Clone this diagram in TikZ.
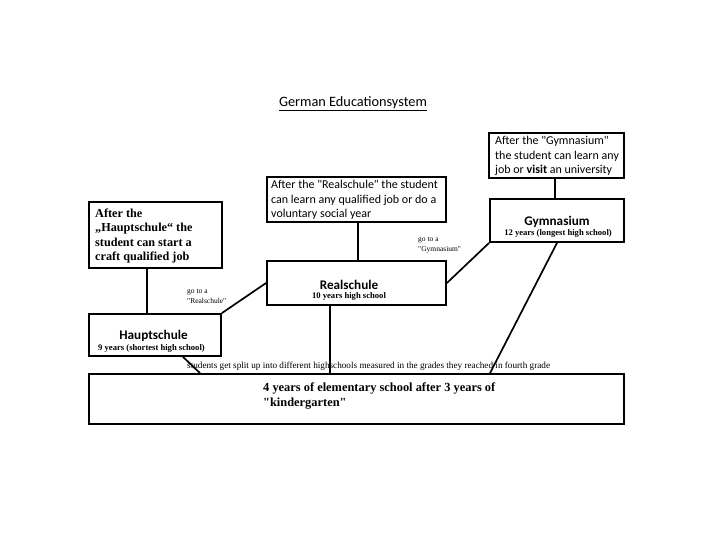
\documentclass[tikz,border=0pt]{standalone}
\usepackage{fontspec}
\setmainfont{Liberation Serif}
\newfontfamily\tnr{Liberation Serif}
\newfontfamily\calib{Carlito}
\begin{document}
\begin{tikzpicture}[x=1pt,y=-1pt,
  box/.style={draw=black,line width=1.8pt,rectangle,inner sep=0pt,fill=white},
  conn/.style={line width=1.7pt},
  sanstext/.style={font=\calib\fontsize{12}{14.5}\selectfont,align=left,inner sep=0pt,anchor=west},
  serifbox/.style={font=\tnr\bfseries\fontsize{12.2}{14.6}\selectfont,align=left,inner sep=0pt,anchor=west},
  small/.style={font=\tnr\fontsize{7.5}{10}\selectfont,align=left,inner sep=0pt,anchor=west},
  head/.style={inner sep=0pt,font=\calib\bfseries\fontsize{13.2}{15}\selectfont},
  sub/.style={inner sep=0pt,font=\tnr\bfseries\fontsize{8.6}{10}\selectfont}]
\useasboundingbox (0,0) rectangle (720,540);
\fill[white] (0,0) rectangle (720,540);
% title
\node[inner sep=0pt,font=\calib\fontsize{14.3}{16}\selectfont] (title) at (353,104) {\underline{German Educationsystem}};
% boxes
\node[box,minimum width=135pt,minimum height=45pt] (gaft) at (556.5,155.5) {};
\node[box,minimum width=179pt,minimum height=45pt] (raft) at (356.5,199.5) {};
\node[box,minimum width=133pt,minimum height=66pt] (haft) at (155.5,235) {};
\node[box,minimum width=134pt,minimum height=43pt] (gym) at (557,220.5) {};
\node[box,minimum width=179pt,minimum height=44pt] (real) at (356.5,283) {};
\node[box,minimum width=132pt,minimum height=42pt] (haupt) at (155,335) {};
\node[box,minimum width=535pt,minimum height=50pt] (base) at (356.5,399) {};
% box texts
\node[sanstext] (gafttxt) at (495,156) {After the "Gymnasium"\\the student can learn any\\job or \textbf{visit} an university};
\node[sanstext] (rafttxt) at (271,200) {After the "Realschule" the student\\can learn any qualified job or do a\\voluntary social year};
\node[serifbox] (hafttxt) at (95,236) {After the\\„Hauptschule“ the\\student can start a\\craft qualified job};
\node[head] (gymt) at (557,222) {Gymnasium};
\node[sub] (gyms) at (558,233) {12 years (longest high school)};
\node[head] (realt) at (349,285) {Realschule};
\node[sub] (reals) at (349,296.5) {10 years high school};
\node[head] (hauptt) at (153.5,336) {Hauptschule};
\node[sub] (haupts) at (151.5,348.5) {9 years (shortest high school)};
\node[inner sep=0pt,anchor=west,align=left,font=\tnr\bfseries\fontsize{12.4}{15}\selectfont] (basetxt) at (263,396) {4 years of elementary school after 3 years of\\"kindergarten"};
% connectors
\draw[conn] ([xshift=-1.5pt]gaft.south) -- ([xshift=-2pt]gym.north);
\draw[conn] ([xshift=1.5pt]raft.south) -- ([xshift=1.5pt]real.north);
\draw[conn] ([xshift=-8.5pt]haft.south) -- ([xshift=-8pt]haupt.north);
\draw[conn] (haupt.north east) -- (real.west);
\draw[conn] (real.east) -- (gym.south west);
% labels
\node[small] (lg) at (418,245.5) {go to a\\"Gymnasium"};
\node[small] (lr) at (187,296.5) {go to a\\"Realschule"};
\node[inner sep=0pt,anchor=west,font=\tnr\fontsize{9.2}{10}\selectfont] (split) at (187,366) {students get split up into different highschools measured in the grades they reached in fourth grade};
\draw[conn] ([xshift=28pt]haupt.south) -- ([xshift=-156.5pt]base.north);
\draw[conn] ([xshift=-26.5pt]real.south) -- ([xshift=-26.5pt]base.north);
\draw[conn] (gym.south) -- ([xshift=133.5pt]base.north);
\end{tikzpicture}
\end{document}
